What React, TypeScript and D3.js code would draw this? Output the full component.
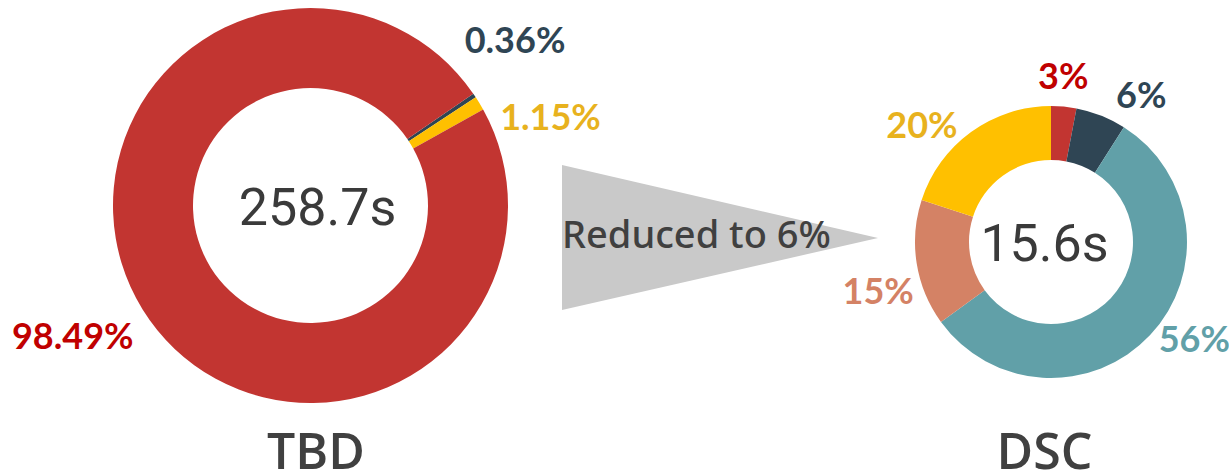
import React from "react";
import * as d3 from "d3";

// ---- data ----
const tbdCategories = ["B", "C", "A"];
const tbdValues = [0.36, 1.15, 98.49];
const tbdLabels = ["0.36%", "1.15%", "98.49%"];
const tbdTotal = "258.7s";

const dscCategories = ["A", "B", "D", "E", "C"];
const dscValues = [3, 6, 56, 15, 20];
const dscLabels = ["3%", "6%", "56%", "15%", "20%"];
const dscTotal = "15.6s";

const chartTitles = ["TBD", "DSC"];
const arrowText = "Reduced to 6%";

// ---- styles / layout ----
const W = 1229;
const H = 475;
const sliceColor: Record<string, string> = {
  A: "#c23531",
  B: "#2f4554",
  C: "#ffc000",
  D: "#61a0a8",
  E: "#d48265",
};
const labelColor: Record<string, string> = {
  A: "#c00000",
  B: "#2f4554",
  C: "#e8b21e",
  D: "#61a0a8",
  E: "#d48265",
};

const tbdLayout = { cx: 310.5, cy: 205.5, r: 197.5, inner: 117.5, start: (55.5 * Math.PI) / 180, labelR: 215 };
const dscLayout = { cx: 1051, cy: 242, r: 136, inner: 82, start: 0, labelR: 172 };
const tbdLabelNudge = [
  [26, -45],
  [56, 23],
  [-55, 18],
];
const dscLabelNudge = [
  [-4, 6],
  [27, 13],
  [18, -20],
  [-3, 23],
  [-28, 23],
];

const labelFont = "Lato, 'Open Sans', sans-serif";
const centerFont = "Roboto, 'Liberation Sans', sans-serif";
const titleFont = "'Open Sans', 'Noto Sans', sans-serif";
const arrowFont = "'Noto Sans', 'Open Sans', sans-serif";

function Donut({
  cats,
  values,
  labels,
  total,
  layout,
  nudge,
  centerDx,
}: {
  cats: string[];
  values: number[];
  labels: string[];
  total: string;
  layout: typeof tbdLayout;
  nudge: number[][];
  centerDx: number;
}) {
  const pie = d3
    .pie<number>()
    .sort(null)
    .value((d) => d)
    .startAngle(layout.start)
    .endAngle(layout.start + 2 * Math.PI);
  const arcs = pie(values);
  const arc = d3.arc<d3.PieArcDatum<number>>().innerRadius(layout.inner).outerRadius(layout.r);
  const labelArc = d3.arc<d3.PieArcDatum<number>>().innerRadius(layout.labelR).outerRadius(layout.labelR);
  return (
    <g>
      <g transform={`translate(${layout.cx},${layout.cy})`}>
        {arcs.map((a, i) => (
          <path key={i} d={arc(a) || ""} fill={sliceColor[cats[i]]} />
        ))}
        {arcs.map((a, i) => {
          const [x, y] = labelArc.centroid(a);
          return (
            <text
              key={"l" + i}
              x={x + nudge[i][0]}
              y={y + nudge[i][1] + 12.5}
              textAnchor="middle"
              fontFamily={labelFont}
              fontWeight="bold"
              fontSize={36}
              fill={labelColor[cats[i]]}
            >
              {labels[i]}
            </text>
          );
        })}
        <text
          x={centerDx}
          y={19}
          textAnchor="middle"
          fontFamily={centerFont}
          fontSize={52}
          fill="#3a3a3a"
        >
          {total}
        </text>
      </g>
    </g>
  );
}

export default function App() {
  return (
    <svg
      width={W}
      height={H}
      viewBox={`0 0 ${W} ${H}`}
      style={{ position: "absolute", left: 0, top: 0, background: "#ffffff" }}
    >
      <polygon points="562,165 562,310 878,238" fill="#c9c9c9" />
      <text x={562} y={248} fontFamily={arrowFont} fontWeight={500} fontSize={38} fill="#404040">
        {arrowText}
      </text>
      <Donut
        cats={tbdCategories}
        values={tbdValues}
        labels={tbdLabels}
        total={tbdTotal}
        layout={tbdLayout}
        nudge={tbdLabelNudge}
        centerDx={7}
      />
      <Donut
        cats={dscCategories}
        values={dscValues}
        labels={dscLabels}
        total={dscTotal}
        layout={dscLayout}
        nudge={dscLabelNudge}
        centerDx={-6.5}
      />
      <text x={316} y={469} textAnchor="middle" fontFamily={titleFont} fontWeight={600} fontSize={50} fill="#404040">
        {chartTitles[0]}
      </text>
      <text x={1044.5} y={469} textAnchor="middle" fontFamily={titleFont} fontWeight={600} fontSize={50} fill="#404040">
        {chartTitles[1]}
      </text>
    </svg>
  );
}
